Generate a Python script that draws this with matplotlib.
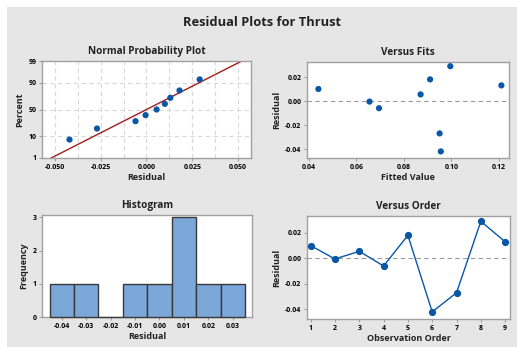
import matplotlib
matplotlib.use('Agg')
import matplotlib.pyplot as plt
import numpy as np
from statistics import NormalDist
from matplotlib.patches import Rectangle
from matplotlib.ticker import MultipleLocator

# residuals in observation order, and fitted values
obs_order = [1, 2, 3, 4, 5, 6, 7, 8, 9]
residuals = [0.010, -0.0005, 0.0055, -0.006, 0.018, -0.042, -0.027, 0.029, 0.013]
fitted = [0.044, 0.0655, 0.087, 0.0695, 0.091, 0.0955, 0.095, 0.0995, 0.121]
pct_ticks = [1, 10, 50, 90, 99]
hist_edges = [-0.045, -0.035, -0.025, -0.015, -0.005, 0.005, 0.015, 0.025, 0.035]

W, H = 517, 347
BLUE = '#0a57a6'
SPINE = '#a0a0a0'
plt.rcParams['font.family'] = ['Open Sans', 'DejaVu Sans']
plt.rcParams['font.weight'] = 'bold'

nd = NormalDist()
probit = lambda p: nd.inv_cdf(p / 100.0)

fig = plt.figure(figsize=(W / 100, H / 100), dpi=100, facecolor='white')
fig.patches.append(Rectangle((7 / W, 0), 1, 1 - 7 / H, transform=fig.transFigure,
                             facecolor='#e6e6e6', edgecolor='none', zorder=-10))


def make_ax(l, t, r, b):
    ax = fig.add_axes([l / W, 1 - b / H, (r - l) / W, (b - t) / H])
    for s in ax.spines.values():
        s.set_color(SPINE)
        s.set_linewidth(1.0)
    ax.tick_params(labelsize=5, length=2.5, width=0.8, color=SPINE, pad=1.5)
    return ax


def style(ax, title, xlabel, ylabel):
    ax.set_title(title, fontsize=7.2, fontweight='bold', pad=5, color='#222222')
    ax.set_xlabel(xlabel, fontsize=6.5, fontweight='bold', labelpad=2, color='#222222')
    ax.set_ylabel(ylabel, fontsize=6.5, fontweight='bold', labelpad=3, color='#222222')
    for lab in ax.get_xticklabels() + ax.get_yticklabels():
        lab.set_fontweight('bold')
        lab.set_fontsize(5)


fig.text(262 / W, 1 - 22 / H, 'Residual Plots for Thrust', ha='center', va='center',
         fontsize=9.3, fontweight='bold', color='#222222')

# Normal probability plot
ax1 = make_ax(42, 61, 251, 158)
r = np.sort(residuals)
n = len(r)
pp = [(i - 0.3) / (n + 0.4) * 100 for i in range(1, n + 1)]
mu = np.mean(residuals)
sd = np.std(residuals, ddof=1)
ax1.set_xlim(-0.057, 0.057)
ax1.set_ylim(probit(1), probit(99))
ax1.xaxis.set_minor_locator(MultipleLocator(0.0125))
ax1.grid(True, which='both', axis='x', linestyle=(0, (4, 3)), color='#d8d8d8', lw=0.8)
for p in pct_ticks[1:-1]:
    ax1.axhline(probit(p), linestyle=(0, (4, 3)), color='#d8d8d8', lw=0.8, zorder=0)
ax1.tick_params(which='minor', length=0)
ax1.set_xticks([-0.05, -0.025, 0.0, 0.025, 0.05])
ax1.set_xticklabels(['-0.050', '-0.025', '0.000', '0.025', '0.050'])
ax1.set_yticks([probit(p) for p in pct_ticks])
ax1.set_yticklabels([str(p) for p in pct_ticks])
lp = np.array([0.2, 99.8])
ax1.plot([mu + sd * probit(p) for p in lp], [probit(p) for p in lp], color='#a31c1c', lw=1.0, zorder=2)
ax1.scatter(r, [probit(p) for p in pp], s=20, color=BLUE, zorder=3, edgecolors='none')
style(ax1, 'Normal Probability Plot', 'Residual', 'Percent')

# Versus fits
ax2 = make_ax(307, 62, 509, 158)
ax2.set_xlim(0.0392, 0.1242)
ax2.set_ylim(-0.0475, 0.0325)
ax2.axhline(0, linestyle=(0, (4, 3)), color='#9a9a9a', lw=0.8, zorder=1)
ax2.scatter(fitted, residuals, s=20, color=BLUE, zorder=3, edgecolors='none')
ax2.set_xticks([0.04, 0.06, 0.08, 0.10, 0.12])
ax2.set_xticklabels(['0.04', '0.06', '0.08', '0.10', '0.12'])
ax2.set_yticks([-0.04, -0.02, 0.0, 0.02])
ax2.set_yticklabels(['-0.04', '-0.02', '0.00', '0.02'])
style(ax2, 'Versus Fits', 'Fitted Value', 'Residual')

# Histogram
ax3 = make_ax(42, 215, 252, 317)
counts, edges, bars = ax3.hist(residuals, bins=hist_edges, color='#7ba7d9',
                               edgecolor='#3a3a3a', linewidth=1.0)
for b in bars:
    b.set_zorder(3)
    b.set_clip_on(False)
ax3.set_xlim(-0.0481, 0.0379)
ax3.set_ylim(0, 3.07)
ax3.set_xticks([-0.04, -0.03, -0.02, -0.01, 0.0, 0.01, 0.02, 0.03])
ax3.set_xticklabels(['-0.04', '-0.03', '-0.02', '-0.01', '0.00', '0.01', '0.02', '0.03'])
ax3.set_yticks([0, 1, 2, 3])
style(ax3, 'Histogram', 'Residual', 'Frequency')

# Versus order
ax4 = make_ax(307, 216, 510, 319)
ax4.set_xlim(0.85, 9.2)
ax4.set_ylim(-0.0476, 0.0332)
ax4.axhline(0, linestyle=(0, (4, 3)), color='#9a9a9a', lw=0.8, zorder=1)
ax4.plot(obs_order, residuals, color=BLUE, lw=1.0, marker='o', ms=4.2, zorder=3)
ax4.set_xticks(obs_order)
ax4.set_yticks([-0.04, -0.02, 0.0, 0.02])
ax4.set_yticklabels(['-0.04', '-0.02', '0.00', '0.02'])
style(ax4, 'Versus Order', 'Observation Order', 'Residual')

fig.savefig('out.png', dpi=100, facecolor=fig.get_facecolor())
